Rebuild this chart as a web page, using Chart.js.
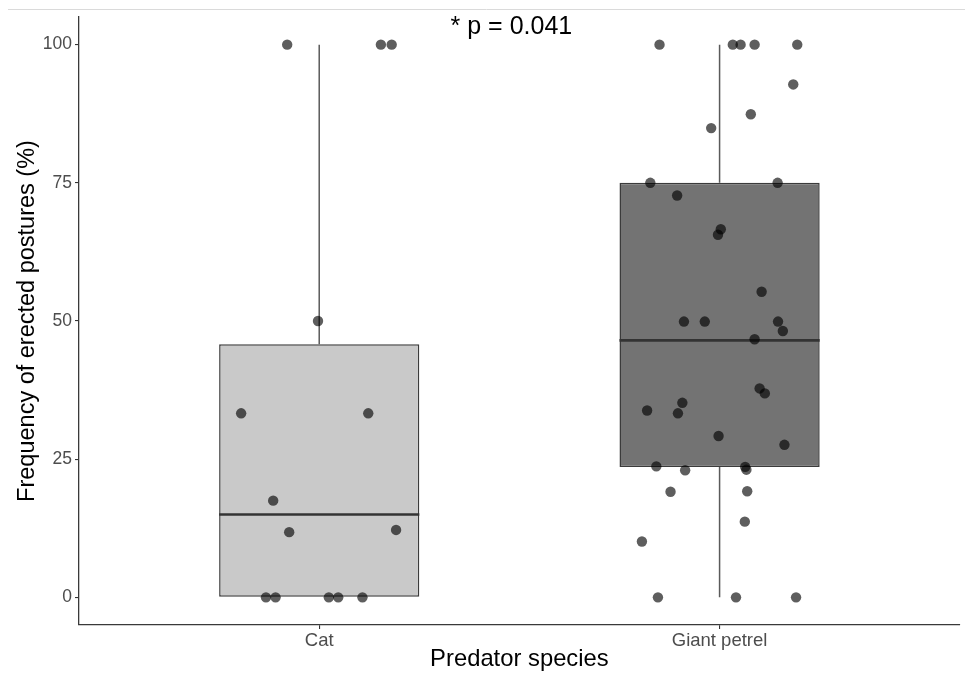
<!DOCTYPE html>
<html>
<head>
<meta charset="utf-8">
<script src="https://cdn.jsdelivr.net/npm/chart.js@4.4.1/dist/chart.umd.min.js"></script>
<style>
    body { margin: 0; background: #fff; }
    #wrap { width: 965px; height: 674px; position: relative; }
</style>
</head>
<body>
<div id="wrap"><canvas id="myChart"></canvas></div>
<script>
// categories and box statistics
const categories = ['Cat', 'Giant petrel'];
const boxLow = [0, 0];
const boxQ1 = [0, 23.6];
const boxMedian = [15, 46.5];
const boxQ3 = [45.8, 75];
const boxHigh = [100, 100];

// jittered observations: value and horizontal jitter (category units)
const catValues = [100, 100, 100, 50, 33.3, 33.3, 17.5, 11.8, 12.2, 0, 0, 0, 0, 0];
const catJitter = [-0.08, 0.154, 0.181, -0.003, -0.195, 0.1225, -0.115, -0.075, 0.192, -0.133, -0.109, 0.024, 0.0475, 0.108];

const petrelValues = [100, 100, 100, 100, 100, 92.8, 87.4, 84.9, 75, 75, 72.7, 66.6, 65.6, 55.3,
    49.9, 49.9, 49.9, 48.2, 46.7, 37.8, 36.9, 33.8, 35.2, 33.3, 29.2, 27.6,
    23.7, 23.0, 23.6, 23.1, 19.1, 19.2, 13.7, 10.1, 0, 0, 0];
const petrelJitter = [-0.15, 0.033, 0.0525, 0.0875, 0.194, 0.184, 0.078, -0.021, -0.173, 0.145, -0.106, 0.003, -0.004, 0.105,
    -0.089, -0.037, 0.146, 0.158, 0.0875, 0.1, 0.113, -0.181, -0.093, -0.104, -0.0025, 0.162,
    -0.158, -0.086, 0.064, 0.067, -0.1225, 0.069, 0.063, -0.194, -0.154, 0.041, 0.191];

const yTicks = [0, 25, 50, 75, 100];
const pLabel = '* p = 0.041';

const fontFamily = '"Liberation Sans", Arial, sans-serif';
const boxFill = ['#c9c9c9', '#737373'];
const halfBox = 0.25;

// build datasets
const datasets = [];

datasets.push({
    type: 'bar',
    data: categories.map((c, i) => ({ x: i + 1, y: [boxQ1[i], boxQ3[i]] })),
    backgroundColor: boxFill,
    borderColor: '#3b3b3b',
    borderWidth: 1.5,
    borderSkipped: false,
    categoryPercentage: 1,
    barPercentage: 0.5,
    order: 3
});

categories.forEach((c, i) => {
    const xi = i + 1;
    if (boxHigh[i] > boxQ3[i]) {
        datasets.push({
            type: 'line',
            data: [{ x: xi, y: boxQ3[i] }, { x: xi, y: boxHigh[i] }],
            borderColor: '#5a5a5a', borderWidth: 1.5, pointRadius: 0, order: 4
        });
    }
    if (boxLow[i] < boxQ1[i]) {
        datasets.push({
            type: 'line',
            data: [{ x: xi, y: boxLow[i] }, { x: xi, y: boxQ1[i] }],
            borderColor: '#5a5a5a', borderWidth: 1.5, pointRadius: 0, order: 4
        });
    }
    datasets.push({
        type: 'line',
        data: [{ x: xi - halfBox, y: boxMedian[i] }, { x: xi + halfBox, y: boxMedian[i] }],
        borderColor: '#333333', borderWidth: 2.6, pointRadius: 0, borderCapStyle: 'butt', order: 2
    });
});

datasets.push({
    type: 'scatter',
    data: catValues.map((v, i) => ({ x: 1 + catJitter[i], y: v }))
        .concat(petrelValues.map((v, i) => ({ x: 2 + petrelJitter[i], y: v }))),
    backgroundColor: 'rgba(0,0,0,0.63)',
    borderWidth: 0,
    pointRadius: 5.2,
    pointHoverRadius: 5.2,
    order: 0
});

const extras = {
    id: 'extras',
    beforeDraw(chart) {
        const ctx = chart.ctx;
        ctx.save();
        ctx.strokeStyle = '#dadada';
        ctx.lineWidth = 1;
        ctx.beginPath();
        ctx.moveTo(8, 9.5);
        ctx.lineTo(chart.width, 9.5);
        ctx.stroke();
        ctx.restore();
    },
    afterDraw(chart) {
        const ctx = chart.ctx;
        const x = chart.scales.x, y = chart.scales.y;
        ctx.save();
        ctx.fillStyle = '#000';
        ctx.font = '25px ' + fontFamily;
        ctx.textAlign = 'center';
        ctx.textBaseline = 'middle';
        ctx.fillText(pLabel, x.getPixelForValue(1.48), y.getPixelForValue(103.1));
        ctx.restore();
    }
};

const config = {
    type: 'bar',
    data: { datasets: datasets },
    options: {
        responsive: true,
        maintainAspectRatio: false,
        animation: false,
        layout: { padding: { top: 17, right: 1, bottom: 0, left: 0 } },
        plugins: {
            legend: { display: false },
            tooltip: { enabled: false }
        },
        scales: {
            x: {
                type: 'linear',
                min: 0.4,
                max: 2.6,
                offset: false,
                afterBuildTicks: s => { s.ticks = categories.map((c, i) => ({ value: i + 1 })); },
                afterFit: s => { s.height = 49; },
                ticks: {
                    callback: v => categories[v - 1],
                    font: { family: fontFamily, size: 18.5 },
                    color: '#4d4d4d',
                    padding: 1,
                    maxRotation: 0
                },
                grid: { display: true, drawOnChartArea: false, drawTicks: true, tickLength: 4, color: '#333', lineWidth: 1.1, offset: false },
                border: { display: true, color: '#3a3a3a', width: 1.3 },
                title: {
                    display: true,
                    text: 'Predator species',
                    font: { family: fontFamily, size: 23.8 },
                    color: '#000',
                    padding: 0
                }
            },
            y: {
                type: 'linear',
                min: -5,
                max: 105,
                afterBuildTicks: s => { s.ticks = yTicks.map(v => ({ value: v })); },
                afterFit: s => { s.width = 79; },
                ticks: {
                    font: { family: fontFamily, size: 17.5 },
                    color: '#4d4d4d',
                    padding: 3
                },
                grid: { display: true, drawOnChartArea: false, drawTicks: true, tickLength: 4, color: '#333', lineWidth: 1.1 },
                border: { display: true, color: '#3a3a3a', width: 1.3 },
                title: {
                    display: true,
                    text: 'Frequency of erected postures (%)',
                    font: { family: fontFamily, size: 23.5 },
                    color: '#000',
                    padding: { top: 13, bottom: 0 }
                }
            }
        }
    },
    plugins: [extras]
};

const ctx = document.getElementById('myChart').getContext('2d');
new Chart(ctx, config);
</script>
</body>
</html>
